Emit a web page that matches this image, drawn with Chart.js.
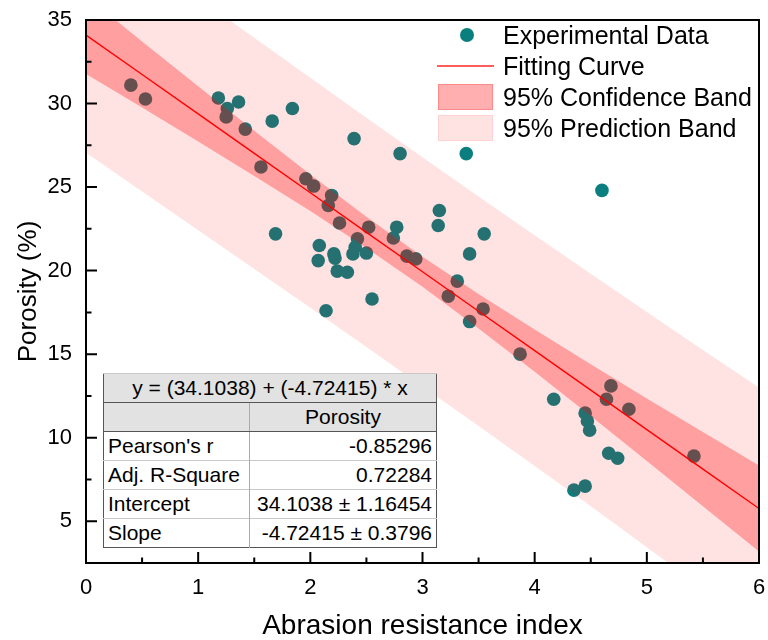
<!DOCTYPE html>
<html>
<head>
<meta charset="utf-8">
<script src="https://cdn.jsdelivr.net/npm/chart.js@4.4.1/dist/chart.umd.min.js"></script>
<style>
  html, body { margin: 0; padding: 0; background: #fff; }
  #wrap { position: relative; width: 768px; height: 640px; font-family: "Liberation Sans", Arial, sans-serif; }
  #chart { position: absolute; left: 0; top: 0; }
  #legend { position: absolute; left: 430px; top: 20px; font-size: 25px; color: #000; }
  #legend .row { position: absolute; left: 0; height: 31px; width: 330px; }
  #legend .txt { position: absolute; left: 73px; top: 0; line-height: 31px; white-space: nowrap; }
  #legend .dot { position: absolute; left: 30px; top: 8px; width: 14px; height: 14px; border-radius: 50%; background: #0b7f7f; }
  #legend .ln { position: absolute; left: 7px; top: 14px; width: 57px; height: 2px; background: #ff5c5c; }
  #legend .sw { position: absolute; left: 8px; top: 2px; width: 55px; height: 26px; box-sizing: border-box; }
  table { position: absolute; left: 103px; top: 373px; width: 334px; border-collapse: collapse; background: #fff;
          font-size: 21px; border: 1.5px solid #555; }
  td { height: 28px; padding: 0 4px; border-top: 1px solid #c8c8c8; line-height: 26px; white-space: nowrap; }
  td.c2 { border-left: 1px solid #aaa; text-align: right; }
  tr.hd td { background: #e2e2e2; border-bottom: 1.5px solid #555; text-align: center; }
</style>
</head>
<body>
<div id="wrap">
  <canvas id="chart" width="768" height="640"></canvas>
  <div id="legend">
    <div class="row" style="top:0px"><span class="dot"></span><span class="txt">Experimental Data</span></div>
    <div class="row" style="top:31px"><span class="ln"></span><span class="txt">Fitting Curve</span></div>
    <div class="row" style="top:62px"><span class="sw" style="background:#ffafaf;border:1px solid #ff8a8a"></span><span class="txt">95% Confidence Band</span></div>
    <div class="row" style="top:93px"><span class="sw" style="background:#ffe3e3;border:1px solid #ffd2d2"></span><span class="txt">95% Prediction Band</span></div>
  </div>
  <table>
    <tr class="hd"><td colspan="2">y = (34.1038) + (-4.72415) * x</td></tr>
    <tr class="hd"><td style="width:137px"></td><td class="c2" style="text-align:center">Porosity</td></tr>
    <tr><td>Pearson's r</td><td class="c2">-0.85296</td></tr>
    <tr><td>Adj. R-Square</td><td class="c2">0.72284</td></tr>
    <tr><td>Intercept</td><td class="c2">34.1038 ± 1.16454</td></tr>
    <tr><td>Slope</td><td class="c2">-4.72415 ± 0.3796</td></tr>
  </table>
</div>
<script>
// experimental points
const expX = [0.40, 0.53, 1.18, 1.36, 1.26, 1.25, 1.42, 1.66, 1.84, 1.56, 1.69, 1.96, 2.03, 2.19, 2.16,
              2.26, 2.08, 2.07, 2.21, 2.22, 2.24, 2.33, 2.42, 2.40, 2.38, 2.50, 2.52, 2.55, 2.14, 2.39,
              2.80, 3.39, 4.60, 2.77, 2.74, 2.86, 2.94, 3.15, 3.14, 3.55, 3.42, 3.31, 3.23, 3.54, 3.42,
              3.87, 4.17, 4.68, 4.64, 4.84, 4.45, 4.47, 4.49, 5.42, 4.66, 4.74, 4.35, 4.45];
const expY = [31.1, 30.27, 30.33, 30.09, 29.7, 29.2, 28.47, 28.95, 29.7, 26.2, 22.2, 25.5, 25.06, 24.5, 23.9,
              22.85, 21.5, 20.6, 21.0, 20.75, 19.97, 19.9, 21.9, 21.4, 21.0, 21.05, 22.6, 18.3, 17.6, 27.9,
              27.0, 27.0, 24.8, 22.6, 21.95, 20.87, 20.7, 23.6, 22.7, 22.2, 21.0, 19.37, 18.47, 17.7, 16.95,
              15.0, 12.3, 13.1, 12.3, 11.7, 11.47, 11.0, 10.45, 8.9, 9.07, 8.77, 6.86, 7.1];

// fit line and band edges sampled along x
const bandX     = [0, 0.5, 1, 1.5, 2, 2.5, 3, 3.5, 4, 4.5, 5, 5.5, 6];
const fitY      = [34.10, 31.74, 29.38, 27.02, 24.66, 22.29, 19.93, 17.57, 15.21, 12.85, 10.48, 8.12, 5.76];
const confUpper = [36.43, 33.72, 31.03, 28.37, 25.75, 23.22, 20.83, 18.60, 16.47, 14.40, 12.35, 10.34, 8.33];
const confLower = [31.77, 29.76, 27.73, 25.67, 23.57, 21.36, 19.03, 16.54, 13.95, 11.30, 8.61, 5.90, 3.19];
const predUpper = [41.15, 38.74, 36.34, 33.94, 31.54, 29.15, 26.79, 24.44, 22.11, 19.81, 17.52, 15.25, 13.00];
const predLower = [27.05, 24.74, 22.42, 20.10, 17.78, 15.43, 13.07, 10.70, 8.31, 5.89, 3.44, 0.99, -1.48];

const xTicks = [0, 1, 2, 3, 4, 5, 6];
const yTicks = [5, 10, 15, 20, 25, 30, 35];
const xMinor = [0.5, 1.5, 2.5, 3.5, 4.5, 5.5];
const yMinor = [7.5, 12.5, 17.5, 22.5, 27.5, 32.5];

const pts = (xs, ys) => xs.map((x, i) => ({ x: x, y: ys[i] }));
const FONT = '"Liberation Sans", Arial, sans-serif';

// frame + inward tick marks
const frameTicks = {
    id: 'frameTicks',
    afterDatasetsDraw(chart) {
        const ctx = chart.ctx, a = chart.chartArea;
        const xs = chart.scales.x, ys = chart.scales.y;
        ctx.save();
        ctx.strokeStyle = '#000';
        ctx.lineWidth = 2;
        ctx.strokeRect(a.left, a.top, a.right - a.left, a.bottom - a.top);
        ctx.beginPath();
        xTicks.forEach(v => { const p = xs.getPixelForValue(v); ctx.moveTo(p, a.bottom); ctx.lineTo(p, a.bottom - 11); });
        xMinor.forEach(v => { const p = xs.getPixelForValue(v); ctx.moveTo(p, a.bottom); ctx.lineTo(p, a.bottom - 5.5); });
        yTicks.forEach(v => { const p = ys.getPixelForValue(v); ctx.moveTo(a.left, p); ctx.lineTo(a.left + 11, p); });
        yMinor.forEach(v => { const p = ys.getPixelForValue(v); ctx.moveTo(a.left, p); ctx.lineTo(a.left + 5.5, p); });
        ctx.stroke();
        ctx.restore();
    }
};

new Chart(document.getElementById('chart'), {
    type: 'scatter',
    data: {
        datasets: [{
            label: 'predLower',
            data: pts(bandX, predLower),
            showLine: true, borderWidth: 0, pointRadius: 0, fill: false, order: 5
        }, {
            label: '95% Prediction Band',
            data: pts(bandX, predUpper),
            showLine: true, borderWidth: 0, pointRadius: 0,
            fill: '-1', backgroundColor: 'rgba(255,0,0,0.11)', order: 5
        }, {
            label: 'confLower',
            data: pts(bandX, confLower),
            showLine: true, borderWidth: 0, pointRadius: 0, fill: false, order: 3
        }, {
            label: '95% Confidence Band',
            data: pts(bandX, confUpper),
            showLine: true, borderWidth: 0, pointRadius: 0,
            fill: '-1', backgroundColor: 'rgba(255,0,0,0.30)', order: 3
        }, {
            label: 'Fitting Curve',
            data: pts(bandX, fitY),
            showLine: true, borderColor: '#ff0000', borderWidth: 1.4, pointRadius: 0, fill: false, order: 1
        }, {
            label: 'Experimental Data',
            data: pts(expX, expY),
            backgroundColor: '#0b7f7f', borderWidth: 0, pointRadius: 6.8, order: 10
        }]
    },
    options: {
        responsive: false,
        animation: false,
        events: [],
        layout: { autoPadding: false, padding: { top: 20, right: 9, left: 0, bottom: 0 } },
        plugins: {
            legend: { display: false },
            tooltip: { enabled: false }
        },
        scales: {
            x: {
                type: 'linear', min: 0, max: 6,
                afterBuildTicks: s => { s.ticks = xTicks.map(v => ({ value: v })); },
                afterFit: s => { s.height = 77; s.paddingLeft = 0; s.paddingRight = 0; },
                grid: { display: false, drawTicks: false },
                border: { display: false },
                ticks: { color: '#000', padding: 12, font: { family: FONT, size: 22 } },
                title: { display: true, text: 'Abrasion resistance index', color: '#000',
                         font: { family: FONT, size: 28, lineHeight: 1 }, padding: { top: 0, bottom: 0 } }
            },
            y: {
                type: 'linear', min: 2.5, max: 35,
                afterBuildTicks: s => { s.ticks = yTicks.map(v => ({ value: v })); },
                afterFit: s => { s.width = 86; s.paddingTop = 0; s.paddingBottom = 0; },
                grid: { display: false, drawTicks: false },
                border: { display: false },
                ticks: { color: '#000', padding: 14, font: { family: FONT, size: 22 } },
                title: { display: true, text: 'Porosity (%)', color: '#000',
                         font: { family: FONT, size: 26, lineHeight: 1 }, padding: { top: 16, bottom: 0 } }
            }
        }
    },
    plugins: [frameTicks]
});
</script>
</body>
</html>
